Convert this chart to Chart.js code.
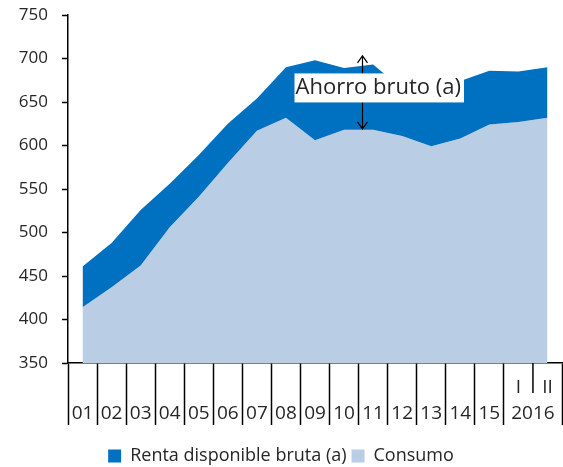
<!DOCTYPE html>
<html>
<head>
<meta charset="utf-8">
<script src="https://cdn.jsdelivr.net/npm/chart.js@4.4.1/dist/chart.umd.min.js"></script>
<style>
    html, body { margin: 0; padding: 0; background: #ffffff; }
    canvas { display: block; }
</style>
</head>
<body>
<canvas id="myChart" width="563" height="467"></canvas>
<script>
// data (miles de millones de euros)
const categories = ['01', '02', '03', '04', '05', '06', '07', '08', '09', '10', '11', '12', '13', '14', '15', 'I', 'II'];
const quarterLabels = ['I', 'II'];
const lastYearLabel = '2016';
const rentaDisponible = [461, 488, 526, 556, 589, 625, 654, 690, 698, 689, 693, 665, 661, 674, 686, 685, 690];
const consumo = [414, 437, 462, 506, 541, 580, 617, 632, 606, 618, 618, 611, 599, 608, 624, 627, 632];
const yMin = 350;
const yMax = 750;
const yStep = 50;

const colors = {
    renta: '#0070C0',
    consumo: '#B9CDE5',
    text: '#262626',
    axis: '#000000'
};

// "Ahorro bruto (a)" marker, in data units
const ahorroNote = { text: 'Ahorro bruto (a)', index: 9.62, top: 703, bottom: 619 };

Chart.defaults.font.family = "'Open Sans', 'DejaVu Sans', sans-serif";
Chart.defaults.color = colors.text;

// draws year / quarter labels under the x axis and the ahorro arrow
const extraDrawing = {
    id: 'extraDrawing',
    afterDraw(chart) {
        const ctx = chart.ctx;
        const x = chart.scales.x;
        const y = chart.scales.y;
        const bottom = chart.chartArea.bottom;

        ctx.save();
        ctx.fillStyle = colors.text;
        ctx.textAlign = 'center';
        ctx.textBaseline = 'middle';
        ctx.font = "19px 'Open Sans', sans-serif";

        categories.forEach((label, i) => {
            const px = x.getPixelForValue(i);
            if (quarterLabels.includes(label)) {
                ctx.fillText(label, px, bottom + 25);
            } else {
                ctx.fillText(label, px, bottom + 51);
            }
        });

        // 2016 centred under its two quarters
        const q1 = categories.indexOf('I');
        const q2 = categories.indexOf('II');
        const mid = (x.getPixelForValue(q1) + x.getPixelForValue(q2)) / 2;
        ctx.fillText(lastYearLabel, mid, bottom + 51);

        // short separator between I and II
        ctx.strokeStyle = colors.axis;
        ctx.lineWidth = 1.5;
        ctx.beginPath();
        ctx.moveTo(mid, bottom);
        ctx.lineTo(mid, bottom + 30);
        ctx.stroke();

        // double arrow
        const ax = Math.round(x.getPixelForValue(ahorroNote.index)) + 0.5;
        const yTop = y.getPixelForValue(ahorroNote.top);
        const yBot = y.getPixelForValue(ahorroNote.bottom);
        ctx.lineWidth = 1.2;
        ctx.beginPath();
        ctx.moveTo(ax, yTop);
        ctx.lineTo(ax, yBot);
        ctx.moveTo(ax - 5, yTop + 7);
        ctx.lineTo(ax, yTop);
        ctx.lineTo(ax + 5, yTop + 7);
        ctx.moveTo(ax - 5, yBot - 7);
        ctx.lineTo(ax, yBot);
        ctx.lineTo(ax + 5, yBot - 7);
        ctx.stroke();

        // white label box over the arrow
        ctx.font = "22px 'Open Sans', sans-serif";
        const w = ctx.measureText(ahorroNote.text).width;
        const boxLeft = ax - 68;
        const boxMid = (yTop + yBot) / 2 - 4.5;
        ctx.fillStyle = '#ffffff';
        ctx.fillRect(boxLeft, boxMid - 14.5, w + 4, 29);
        ctx.fillStyle = colors.text;
        ctx.textAlign = 'left';
        ctx.fillText(ahorroNote.text, boxLeft + 1, boxMid);
        ctx.restore();
    }
};

const ctx = document.getElementById('myChart').getContext('2d');
const myChart = new Chart(ctx, {
    type: 'line',
    data: {
        labels: categories,
        datasets: [
            {
                label: 'Renta disponible bruta (a)',
                data: rentaDisponible,
                backgroundColor: colors.renta,
                borderColor: colors.renta,
                borderWidth: 0,
                pointRadius: 0,
                fill: '+1',
                tension: 0
            },
            {
                label: 'Consumo',
                data: consumo,
                backgroundColor: colors.consumo,
                borderColor: colors.consumo,
                borderWidth: 0,
                pointRadius: 0,
                fill: 'start',
                tension: 0
            }
        ]
    },
    options: {
        responsive: false,
        animation: false,
        events: [],
        layout: {
            padding: { top: 15, right: 1, left: 0, bottom: -8 }
        },
        scales: {
            x: {
                offset: true,
                grid: {
                    offset: true,
                    drawOnChartArea: false,
                    drawTicks: true,
                    tickLength: 62,
                    tickWidth: 1.5,
                    tickColor: c => (c.index === 16 ? 'rgba(0,0,0,0)' : colors.axis)
                },
                border: { color: colors.axis, width: 1.5 },
                ticks: { display: false },
                afterFit(scale) {
                    scale.height = 79;
                }
            },
            y: {
                min: yMin,
                max: yMax,
                grid: {
                    drawOnChartArea: false,
                    tickLength: 6,
                    tickWidth: 1.5,
                    tickColor: colors.axis
                },
                border: { color: colors.axis, width: 1.5 },
                ticks: {
                    stepSize: yStep,
                    padding: 14,
                    color: colors.text,
                    font: { size: 17 }
                },
                afterFit(scale) {
                    scale.width = 68;
                    scale.paddingTop = 0;
                    scale.paddingBottom = 0;
                }
            }
        },
        plugins: {
            legend: {
                position: 'bottom',
                labels: {
                    boxWidth: 13,
                    boxHeight: 13,
                    padding: 5,
                    color: colors.text,
                    font: { size: 18 }
                }
            },
            tooltip: { enabled: false }
        }
    },
    plugins: [extraDrawing]
});
</script>
</body>
</html>
